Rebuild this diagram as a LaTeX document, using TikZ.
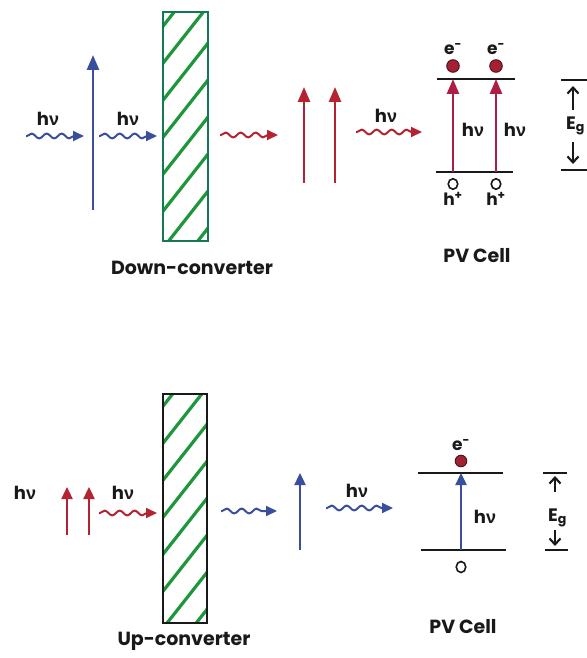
\documentclass[tikz,border=0pt]{standalone}
\usepackage{fontspec}
\setmainfont{Poppins}
\newfontfamily\grk{Liberation Sans}
\usetikzlibrary{arrows.meta,decorations.pathmorphing,shapes.geometric}
\definecolor{pblue}{RGB}{58,78,158}
\definecolor{pred}{RGB}{180,35,50}
\definecolor{pmag}{RGB}{172,30,68}
\definecolor{efill}{RGB}{165,32,50}
\definecolor{eline}{RGB}{80,20,30}
\definecolor{hgreen}{RGB}{30,150,60}
\definecolor{gborder}{RGB}{20,120,85}
\definecolor{ink}{RGB}{25,25,25}
\newcommand{\hnu}{h{\grk\bfseries ν}}
\begin{document}
\begin{tikzpicture}[x=1pt,y=-1pt,
  wave/.style={line width=2pt, decorate,
    decoration={snake,amplitude=2.4pt,segment length=15pt,post length=9pt,pre length=1pt},
    -{Triangle[length=11pt,width=10pt]}},
  vert/.style={line width=2.6pt, -{Triangle[length=15pt,width=12pt]}},
  vsmall/.style={line width=2.4pt, -{Triangle[length=12pt,width=11pt]}},
  level/.style={line width=2.8pt, ink},
  egbar/.style={line width=2.4pt, ink},
  egarrow/.style={line width=2.1pt, ink, -{Straight Barb[length=6pt,width=11pt]}},
  hatch/.style={line width=3.2pt, hgreen},
  lab/.style={font=\fontsize{18}{18}\selectfont\bfseries, inner sep=0pt, text=ink},
  small/.style={font=\fontsize{17}{17}\selectfont\bfseries, inner sep=0pt, text=ink},
  title/.style={font=\fontsize{19}{19}\selectfont\bfseries, inner sep=0pt, text=ink},
  elec/.style={circle, fill=efill, draw=eline, line width=1pt, minimum size=12.5pt, inner sep=0pt},
  hole/.style={ellipse, draw=ink, line width=1.6pt, minimum width=9.5pt, minimum height=10.5pt, inner sep=0pt}
]
\useasboundingbox (0,0) rectangle (586,658);

% ================= TOP: DOWN-CONVERTER =================
\coordinate (w1s) at (26,136); \coordinate (w1e) at (84,136);
\draw[wave,pblue] (w1s) -- (w1e);
\node[lab] (hv1) at (48,119) {\hnu};
\coordinate (v1b) at (93,210); \coordinate (v1t) at (93,55);
\draw[vert,pblue] (v1b) -- (v1t);
\coordinate (w2s) at (99,136); \coordinate (w2e) at (157,136);
\draw[wave,pblue] (w2s) -- (w2e);
\node[lab] (hv2) at (128,119) {\hnu};

\begin{scope}
  \clip (163,12) rectangle (208,241);
  \foreach \i in {0,...,7} {
    \draw[hatch] (160,{30+\i*37}) -- (212,{30+\i*37-66});
  }
\end{scope}
\node[draw=gborder, line width=2.5pt, minimum width=45pt, minimum height=229pt, inner sep=0pt] (dc) at (185.5,126.5) {};
\node[title] (dclab) at (192,268) {Down-converter};

\coordinate (w3s) at (220,135); \coordinate (w3e) at (278,135);
\draw[wave,pred] (w3s) -- (w3e);
\coordinate (r1b) at (304,183); \coordinate (r1t) at (304,87);
\coordinate (r2b) at (335,183); \coordinate (r2t) at (335,87);
\draw[vert,pred] (r1b) -- (r1t);
\draw[vert,pred] (r2b) -- (r2t);
\coordinate (w4s) at (356,132); \coordinate (w4e) at (422,132);
\draw[wave,pred] (w4s) -- (w4e);
\node[lab] (hv3) at (386,116) {\hnu};

% PV cell (top)
\coordinate (cbl) at (437,79); \coordinate (cbr) at (515,79);
\coordinate (vbl) at (436,172); \coordinate (vbr) at (513,172);
\draw[level] (cbl) -- (cbr);
\draw[level] (vbl) -- (vbr);
\coordinate (pa1b) at (453,172); \coordinate (pa1t) at (453,79);
\coordinate (pa2b) at (496,172); \coordinate (pa2t) at (496,79);
\draw[vert,pmag] (pa1b) -- (pa1t);
\draw[vert,pmag] (pa2b) -- (pa2t);
\node[elec] (e1) at (453,66) {};
\node[elec] (e2) at (496,66) {};
\node[small] (e1t) at (453,49) {e\textsuperscript{-}};
\node[small] (e2t) at (496,49) {e\textsuperscript{-}};
\node[hole] (h1) at (453,184) {};
\node[hole] (h2) at (496,184) {};
\node[small] (h1t) at (453,199) {h\textsuperscript{+}};
\node[small] (h2t) at (496,199) {h\textsuperscript{+}};
\node[lab] (hv4) at (473,130) {\hnu};
\node[lab] (hv5) at (515,130) {\hnu};
\node[title] (pv1) at (477,256) {PV Cell};

% Eg (top)
\coordinate (eg1a) at (561,80); \coordinate (eg1b) at (590,80);
\coordinate (eg1c) at (561,170); \coordinate (eg1d) at (590,170);
\draw[egbar] (eg1a) -- (eg1b);
\draw[egbar] (eg1c) -- (eg1d);
\coordinate (ua1) at (573,110); \coordinate (ua2) at (573,86);
\coordinate (da1) at (573,142); \coordinate (da2) at (573,164);
\draw[egarrow] (ua1) -- (ua2);
\draw[egarrow] (da1) -- (da2);
\node[lab, anchor=west] (eg1) at (566,126) {E\textsubscript{g}};

% ================= BOTTOM: UP-CONVERTER =================
\node[lab] (hv6) at (25,493) {\hnu};
\coordinate (s1b) at (67,535); \coordinate (s1t) at (67,487);
\coordinate (s2b) at (89,535); \coordinate (s2t) at (89,487);
\draw[vsmall,pred] (s1b) -- (s1t);
\draw[vsmall,pred] (s2b) -- (s2t);
\coordinate (w5s) at (99,513); \coordinate (w5e) at (157,513);
\draw[wave,pred] (w5s) -- (w5e);
\node[lab] (hv7) at (123,493) {\hnu};

\begin{scope}
  \clip (163,394) rectangle (207,623);
  \foreach \i in {0,...,7} {
    \draw[hatch] (160,{410+\i*37}) -- (212,{410+\i*37-66});
  }
\end{scope}
\node[draw=ink, line width=2.5pt, minimum width=44pt, minimum height=229pt, inner sep=0pt] (uc) at (185,508.5) {};
\node[title] (uclab) at (184,641) {Up-converter};

\coordinate (w6s) at (221,511); \coordinate (w6e) at (277,511);
\draw[wave,pblue] (w6s) -- (w6e);
\coordinate (b1b) at (300,550); \coordinate (b1t) at (300,473);
\draw[vsmall,pblue] (b1b) -- (b1t);
\coordinate (w7s) at (326,508); \coordinate (w7e) at (393,508);
\draw[wave,pblue] (w7s) -- (w7e);
\node[lab] (hv8) at (357,491) {\hnu};

% PV cell (bottom)
\coordinate (cbl2) at (418,473); \coordinate (cbr2) at (503,473);
\coordinate (vbl2) at (421,550); \coordinate (vbr2) at (506,550);
\draw[level] (cbl2) -- (cbr2);
\draw[level] (vbl2) -- (vbr2);
\coordinate (pb1b) at (461,550); \coordinate (pb1t) at (461,473);
\draw[vsmall,pblue] (pb1b) -- (pb1t);
\node[elec, minimum size=11.5pt] (e3) at (461,461) {};
\node[small] (e3t) at (461,445) {e\textsuperscript{-}};
\node[hole, minimum height=11pt] (h3) at (461,567) {};
\node[lab] (hv9) at (485,517) {\hnu};
\node[title] (pv2) at (463,627) {PV Cell};

% Eg (bottom)
\coordinate (eg2a) at (543,473); \coordinate (eg2b) at (567,473);
\coordinate (eg2c) at (545,550); \coordinate (eg2d) at (568,550);
\draw[egbar] (eg2a) -- (eg2b);
\draw[egbar] (eg2c) -- (eg2d);
\coordinate (ub1) at (555,492); \coordinate (ub2) at (555,476);
\coordinate (db1) at (555,530); \coordinate (db2) at (555,546);
\draw[egarrow] (ub1) -- (ub2);
\draw[egarrow] (db1) -- (db2);
\node[lab, anchor=west] (eg2) at (548,518) {E\textsubscript{g}};
\end{tikzpicture}
\end{document}
